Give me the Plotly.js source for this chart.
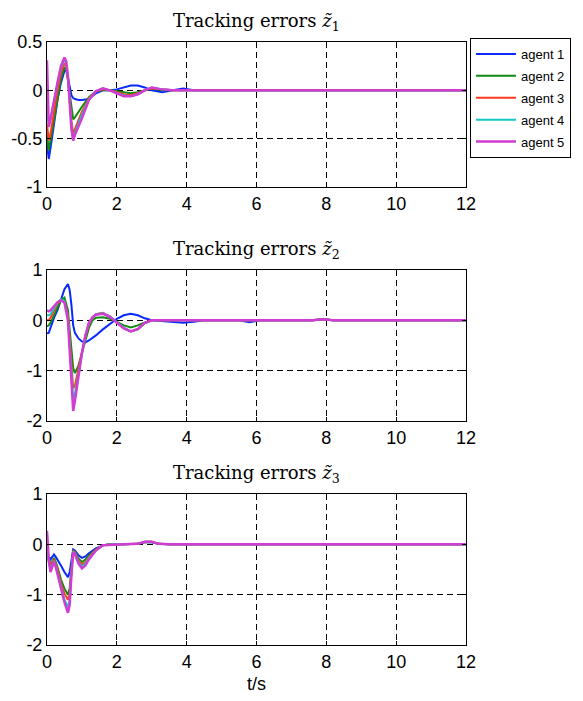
<!DOCTYPE html>
<html>
<head>
<meta charset="utf-8">
<script src="https://cdn.plot.ly/plotly-3.0.1.min.js"></script>
<style>html,body{margin:0;padding:0;background:#fff;}#chart{width:583px;height:701px;}</style>
</head>
<body>
<div id="chart"></div>
<script>
// ---------- data ----------
const agentNames = ['agent 1', 'agent 2', 'agent 3', 'agent 4', 'agent 5'];
const agentColors = ['#0a2aff', '#108a10', '#ff3a1a', '#10c8c8', '#d23cd2'];

// tracking error z1
const t1 = [0, 0.05, 0.1, 0.2, 0.3, 0.4, 0.5, 0.55, 0.6, 0.7, 0.75, 0.8, 0.9, 1.0, 1.2, 1.4, 1.6, 1.8, 2.0, 2.2, 2.4, 2.6, 2.8, 3.0, 3.3, 3.6, 3.9, 4.2, 5, 12];
const z1_agent1 = [-0.55, -0.71, -0.6, -0.35, -0.1, 0.08, 0.2, 0.22, 0.12, -0.05, -0.08, -0.09, -0.1, -0.1, -0.09, -0.03, 0, 0, 0.01, 0.03, 0.05, 0.05, 0.03, 0, -0.02, 0, 0.02, 0, 0, 0];
const z1_agent2 = [-0.45, -0.62, -0.52, -0.3, -0.07, 0.12, 0.24, 0.22, 0.1, -0.2, -0.3, -0.28, -0.22, -0.17, -0.07, -0.01, 0, 0, -0.01, -0.02, -0.03, -0.02, 0, 0.02, 0, 0, 0, 0, 0, 0];
const z1_agent3 = [-0.35, -0.52, -0.45, -0.22, 0, 0.18, 0.28, 0.25, 0.12, -0.32, -0.45, -0.4, -0.3, -0.22, -0.08, -0.01, 0.01, 0, -0.02, -0.04, -0.05, -0.03, 0, 0.02, 0.01, 0, 0, 0, 0, 0];
const z1_agent4 = [-0.2, -0.35, -0.3, -0.1, 0.07, 0.23, 0.32, 0.28, 0.14, -0.38, -0.5, -0.44, -0.34, -0.25, -0.09, -0.01, 0.02, 0, -0.03, -0.05, -0.06, -0.04, 0, 0.03, 0.01, 0, 0, 0, 0, 0];
const z1_agent5 = [0.31, -0.38, -0.3, -0.1, 0.08, 0.25, 0.34, 0.3, 0.15, -0.4, -0.52, -0.46, -0.38, -0.29, -0.1, -0.01, 0.02, 0, -0.03, -0.06, -0.06, -0.04, 0, 0.03, 0.01, 0, 0, 0, 0, 0];

// tracking error z2
const t2 = [0, 0.05, 0.1, 0.2, 0.3, 0.4, 0.5, 0.6, 0.65, 0.7, 0.75, 0.8, 0.9, 1.0, 1.1, 1.2, 1.3, 1.4, 1.6, 1.8, 2.0, 2.2, 2.4, 2.6, 2.8, 3.0, 3.3, 3.6, 3.9, 4.2, 4.5, 5.5, 5.8, 6.1, 7.6, 7.9, 8.2, 12];
const z2_agent1 = [-0.26, -0.25, -0.15, 0.05, 0.2, 0.4, 0.62, 0.72, 0.6, 0.3, -0.1, -0.25, -0.36, -0.42, -0.44, -0.4, -0.35, -0.3, -0.18, -0.07, 0.03, 0.1, 0.13, 0.1, 0.04, 0, -0.02, -0.04, -0.05, -0.03, 0, 0, -0.04, 0, 0, 0.02, 0, 0];
const z2_agent2 = [-0.12, -0.1, -0.05, 0.1, 0.28, 0.4, 0.45, 0.2, -0.2, -0.6, -0.95, -1.05, -0.9, -0.65, -0.4, -0.15, 0, 0.05, 0.06, 0.03, -0.03, -0.1, -0.14, -0.1, -0.04, 0, 0, 0, 0, 0, 0, 0, 0, 0, 0, 0.02, 0, 0];
const z2_agent3 = [0, 0, 0.05, 0.2, 0.33, 0.4, 0.38, 0.1, -0.35, -0.9, -1.35, -1.3, -0.95, -0.6, -0.3, -0.08, 0.05, 0.12, 0.15, 0.08, -0.03, -0.15, -0.22, -0.18, -0.06, 0, 0, 0, 0, 0, 0, 0, 0, 0, 0, 0.02, 0, 0];
const z2_agent4 = [0.1, 0.1, 0.12, 0.25, 0.35, 0.42, 0.38, 0.05, -0.45, -1.1, -1.55, -1.45, -1.05, -0.65, -0.3, -0.06, 0.06, 0.12, 0.14, 0.08, -0.04, -0.15, -0.22, -0.18, -0.06, 0, 0, 0, 0, 0, 0, 0, 0, 0, 0, 0.02, 0, 0];
const z2_agent5 = [0.2, 0.18, 0.2, 0.28, 0.36, 0.4, 0.35, 0, -0.55, -1.3, -1.8, -1.6, -1.1, -0.65, -0.3, -0.05, 0.06, 0.11, 0.13, 0.07, -0.05, -0.16, -0.22, -0.17, -0.05, 0, 0, 0, 0, 0, 0, 0, 0, 0, 0, 0.02, 0, 0];

// tracking error z3
const t3 = [0, 0.05, 0.1, 0.15, 0.2, 0.25, 0.3, 0.4, 0.5, 0.6, 0.65, 0.7, 0.75, 0.8, 0.9, 1.0, 1.1, 1.2, 1.4, 1.6, 1.8, 2.2, 2.6, 2.8, 3.0, 3.2, 3.5, 12];
const z3_agent1 = [-0.1, -0.25, -0.3, -0.25, -0.2, -0.25, -0.3, -0.42, -0.55, -0.65, -0.55, -0.3, -0.1, -0.12, -0.22, -0.27, -0.24, -0.18, -0.08, -0.02, 0, 0, 0.01, 0.04, 0.04, 0.01, 0, 0];
const z3_agent2 = [-0.1, -0.3, -0.4, -0.32, -0.27, -0.35, -0.45, -0.7, -0.88, -1.0, -0.88, -0.45, -0.12, -0.15, -0.28, -0.35, -0.3, -0.22, -0.1, -0.02, 0, 0, 0.01, 0.04, 0.04, 0.01, 0, 0];
const z3_agent3 = [-0.1, -0.33, -0.45, -0.35, -0.3, -0.38, -0.5, -0.78, -0.98, -1.1, -0.98, -0.5, -0.13, -0.16, -0.32, -0.4, -0.35, -0.25, -0.11, -0.02, 0, 0, 0.01, 0.05, 0.05, 0.01, 0, 0];
const z3_agent4 = [-0.1, -0.36, -0.5, -0.4, -0.33, -0.42, -0.55, -0.85, -1.1, -1.25, -1.1, -0.55, -0.14, -0.18, -0.35, -0.44, -0.38, -0.27, -0.12, -0.02, 0, 0, 0.01, 0.05, 0.05, 0.01, 0, 0];
const z3_agent5 = [0.27, -0.3, -0.55, -0.45, -0.35, -0.45, -0.6, -0.9, -1.15, -1.36, -1.2, -0.6, -0.15, -0.2, -0.38, -0.48, -0.42, -0.3, -0.12, -0.02, -0.01, 0, 0.01, 0.05, 0.05, 0.01, 0, 0];

const xTicks = [0, 2, 4, 6, 8, 10, 12];
const y1Ticks = [-1, -0.5, 0, 0.5];
const y1Labels = ['-1', '-0.5', '0', '0.5'];
const y23Ticks = [-2, -1, 0, 1];
const y23Labels = ['-2', '-1', '0', '1'];
const titleTexts = [
  'Tracking errors <i>z\u0303</i><sub>1</sub>',
  'Tracking errors <i>z\u0303</i><sub>2</sub>',
  'Tracking errors <i>z\u0303</i><sub>3</sub>'
];
const xLabel = 't/s';

// ---------- traces ----------
const panels = [
  {t: t1, series: [z1_agent1, z1_agent2, z1_agent3, z1_agent4, z1_agent5], xa: 'x', ya: 'y'},
  {t: t2, series: [z2_agent1, z2_agent2, z2_agent3, z2_agent4, z2_agent5], xa: 'x2', ya: 'y2'},
  {t: t3, series: [z3_agent1, z3_agent2, z3_agent3, z3_agent4, z3_agent5], xa: 'x3', ya: 'y3'}
];
const traces = [];
panels.forEach((p, k) => {
  p.series.forEach((vals, j) => {
    traces.push({
      x: p.t, y: vals, xaxis: p.xa, yaxis: p.ya,
      type: 'scatter', mode: 'lines',
      name: agentNames[j], legendgroup: 'g' + j, showlegend: k === 0,
      line: {color: agentColors[j], width: j === 4 ? 2.5 : 2}
    });
  });
});

// ---------- layout ----------
const tickFont = {family: 'Liberation Sans, Arial, sans-serif', size: 18, color: '#000'};
function xAxis(anchor, withTitle) {
  const a = {
    anchor: anchor, domain: [0, 1], range: [0, 12],
    tickmode: 'array', tickvals: xTicks, ticktext: xTicks.map(String),
    showline: true, linecolor: '#000', linewidth: 1, mirror: 'ticks',
    ticks: 'inside', ticklen: 4, tickcolor: '#000',
    showgrid: true, gridcolor: '#000', gridwidth: 1, griddash: '6px,4px',
    zeroline: false, tickfont: tickFont, fixedrange: true
  };
  if (withTitle) a.title = {text: xLabel, font: tickFont, standoff: 6};
  return a;
}
function yAxis(anchor, domain, range, vals, labels) {
  return {
    anchor: anchor, domain: domain, range: range,
    tickmode: 'array', tickvals: vals, ticktext: labels,
    showline: true, linecolor: '#000', linewidth: 1, mirror: 'ticks',
    ticks: 'inside', ticklen: 4, tickcolor: '#000',
    showgrid: true, gridcolor: '#000', gridwidth: 1, griddash: '6px,4px',
    zeroline: false, tickfont: tickFont, fixedrange: true
  };
}
const d1 = [0.7595, 1], d2 = [0.3715, 0.6219], d3 = [0, 0.2504];
const titleFont = {family: 'DejaVu Serif, serif', size: 18, color: '#000'};
const layout = {
  width: 583, height: 701,
  margin: {l: 47, r: 117, t: 42, b: 56},
  paper_bgcolor: '#fff', plot_bgcolor: '#fff',
  xaxis: xAxis('y', false),
  xaxis2: xAxis('y2', false),
  xaxis3: xAxis('y3', true),
  yaxis: yAxis('x', d1, [-1, 0.5], y1Ticks, y1Labels),
  yaxis2: yAxis('x2', d2, [-2, 1], y23Ticks, y23Labels),
  yaxis3: yAxis('x3', d3, [-2, 1], y23Ticks, y23Labels),
  showlegend: true,
  legend: {
    x: 1.0095, xanchor: 'left', y: 1.0066, yanchor: 'top',
    bordercolor: '#000', borderwidth: 1, bgcolor: '#fff',
    font: {family: 'Liberation Sans, Arial, sans-serif', size: 13, color: '#000'},
    traceorder: 'grouped', tracegroupgap: 2, itemwidth: 40
  },
  annotations: [d1, d2, d3].map((d, i) => ({
    xref: 'paper', yref: 'paper', x: 0.5, y: d[1], xanchor: 'center', yanchor: 'bottom',
    yshift: 6, text: titleTexts[i], showarrow: false, font: titleFont
  }))
};

Plotly.newPlot('chart', traces, layout, {displayModeBar: false, staticPlot: true});
</script>
</body>
</html>
